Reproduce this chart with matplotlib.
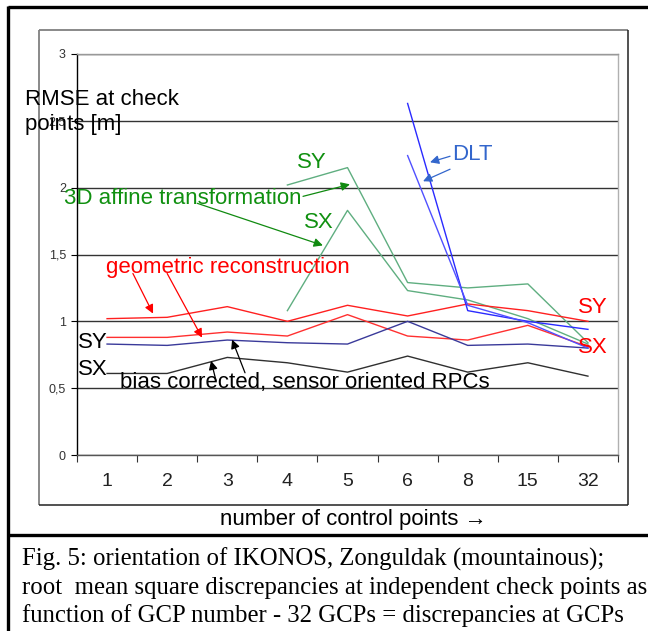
import numpy as np
import matplotlib.pyplot as plt
from matplotlib.lines import Line2D

# Datos (RMSE en puntos de control [m])
categorias = ['1', '2', '3', '4', '5', '6', '8', '15', '32']
nan = np.nan

geo_sy = [1.02, 1.03, 1.11, 1.00, 1.12, 1.04, 1.13, 1.08, 1.00]
geo_sx = [0.88, 0.88, 0.92, 0.89, 1.05, 0.89, 0.86, 0.97, 0.81]
rpc_sy = [0.83, 0.82, 0.86, 0.84, 0.83, 1.00, 0.82, 0.83, 0.80]
rpc_sx = [0.61, 0.61, 0.73, 0.69, 0.62, 0.74, 0.62, 0.69, 0.59]
afin_sy = [nan, nan, nan, 2.02, 2.15, 1.29, 1.25, 1.28, 0.84]
afin_sx = [nan, nan, nan, 1.08, 1.83, 1.23, 1.16, 1.02, 0.83]
dlt_sy = [nan, nan, nan, nan, nan, 2.63, 1.08, 1.00, 0.94]
dlt_sx = [nan, nan, nan, nan, nan, 2.24, 1.12, 0.99, 0.80]

y_ticks = [0, 0.5, 1, 1.5, 2, 2.5, 3]
y_tick_labels = ['0', '0,5', '1', '1,5', '2', '2,5', '3']

caption = ["Fig. 5: orientation of IKONOS, Zonguldak (mountainous);",
           "root  mean square discrepancies at independent check points as",
           "function of GCP number - 32 GCPs = discrepancies at GCPs"]

W, H = 648, 631
sans = ['Liberation Sans', 'DejaVu Sans']
serif = ['Liberation Serif', 'DejaVu Serif']
plt.rcParams['font.family'] = sans

fig = plt.figure(figsize=(W / 100, H / 100), dpi=100)
ax = fig.add_axes([77 / W, 1 - 455 / H, (618 - 77) / W, (455 - 54) / H])

x = np.arange(len(categorias))

# Series
verde = '#5fae80'
ax.plot(x, afin_sy, color=verde, lw=1.0)
ax.plot(x, afin_sx, color=verde, lw=1.0)
ax.plot(x, geo_sy, color='#ff2020', lw=1.0)
ax.plot(x, geo_sx, color='#ff3030', lw=1.0)
ax.plot(x, rpc_sy, color='#3a3a9a', lw=1.0)
ax.plot(x, rpc_sx, color='#303030', lw=1.0)
ax.plot(x, dlt_sy, color='#2a2aff', lw=1.0)
ax.plot(x, dlt_sx, color='#5050ff', lw=1.0)

# Ejes
ax.set_xlim(-0.5, len(categorias) - 0.5)
ax.set_ylim(0, 3)
ax.set_yticks(y_ticks)
ax.set_yticklabels(y_tick_labels, fontsize=9, color='#333333')
ax.tick_params(axis='y', length=4, width=0.8, pad=4)
ax.set_xticks(x)
ax.set_xticklabels(categorias, fontsize=14, color='#222222')
ax.set_xticks(np.arange(len(categorias) + 1) - 0.5, minor=True)
ax.tick_params(axis='x', which='major', length=0, pad=13)
ax.tick_params(axis='x', which='minor', length=5, width=0.8, color='#333333')
ax.yaxis.grid(True, color='#333333', lw=1.0)
ax.set_axisbelow(True)
ax.spines['left'].set_color('black')
ax.spines['bottom'].set_color('#555555')
ax.spines['top'].set_color('#999999')
ax.spines['right'].set_color('#b0b0b0')
for s in ax.spines.values():
    s.set_linewidth(1.0)

# Etiquetas del grafico
fs = 16
ax.text(3.16, 2.145, 'SY', color='#109010', fontsize=fs)
ax.text(-0.716, 1.88, '3D affine transformation', color='#109010', fontsize=fs)
ax.text(3.28, 1.695, 'SX', color='#109010', fontsize=fs)
ax.text(5.74, 2.205, 'DLT', color='#3366cc', fontsize=fs)
ax.text(-0.017, 1.365, 'geometric reconstruction', color='#ff0000', fontsize=fs)
ax.text(7.84, 1.065, 'SY', color='#ff0000', fontsize=fs)
ax.text(7.84, 0.765, 'SX', color='#ff0000', fontsize=fs)
ax.text(-0.483, 0.80, 'SY', color='black', fontsize=fs)
ax.text(-0.483, 0.60, 'SX', color='black', fontsize=fs)
ax.text(0.215, 0.50, 'bias corrected, sensor oriented RPCs', color='black', fontsize=fs)

# Flechas (cola -> punta)
flechas = [
    ((3.26, 1.935), (4.04, 2.025), '#108a10'),
    ((1.50, 1.883), (3.59, 1.568), '#108a10'),
    ((0.43, 1.358), (0.765, 1.058), '#ff0000'),
    ((1.00, 1.358), (1.58, 0.878), '#ff0000'),
    ((1.813, 0.555), (1.73, 0.705), 'black'),
    ((2.295, 0.615), (2.08, 0.863), 'black'),
    ((5.706, 2.235), (5.373, 2.19), '#3366cc'),
    ((5.706, 2.138), (5.257, 2.048), '#3366cc'),
]
for cola, punta, c in flechas:
    ax.annotate('', xy=punta, xytext=cola,
                arrowprops=dict(arrowstyle='-|>', color=c, lw=0.9,
                                mutation_scale=13, shrinkA=0, shrinkB=0))

# Titulo del eje y y del eje x
fig.text(25 / W, 1 - 105 / H, 'RMSE at check', fontsize=fs, va='baseline')
fig.text(25 / W, 1 - 130 / H, 'points [m]', fontsize=fs, va='baseline')
fig.text(353 / W, 1 - 525 / H, 'number of control points \u2192', fontsize=16,
         ha='center', va='baseline', family=sans)


def linea(x0, y0, x1, y1, color, lw):
    fig.add_artist(Line2D([x0 / W, x1 / W], [1 - y0 / H, 1 - y1 / H],
                          transform=fig.transFigure, color=color, lw=lw,
                          solid_capstyle='butt'))


# Marco del area del grafico
linea(39, 30, 628, 30, '#808080', 1.3)
linea(39, 30, 39, 505, '#808080', 1.3)
linea(628, 30, 628, 505, '#222222', 1.1)
linea(39, 505, 628, 505, '#222222', 1.1)

# Marco exterior y separador de la leyenda
linea(8, 7, W, 7, 'black', 2.4)
linea(8, 6, 8, H, 'black', 2.4)
linea(8, 535, W, 535, 'black', 2.4)

# Pie de figura
for i, t in enumerate(caption):
    fig.text(22 / W, 1 - (566 + 28 * i) / H, t, fontsize=17.8,
             family=serif, va='baseline')

fig.savefig('out.png', dpi=100)
